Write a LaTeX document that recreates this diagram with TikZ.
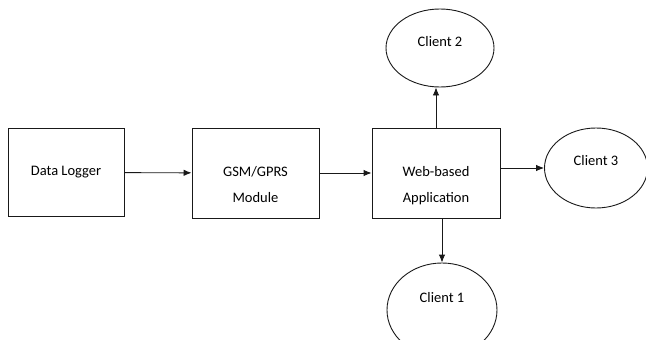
\documentclass[tikz,border=0pt]{standalone}
\usepackage{fontspec}
\setmainfont{Carlito}
\usepackage{tikz}
\usetikzlibrary{arrows.meta}
\usetikzlibrary{shapes.geometric, positioning}

\tikzset{
  block/.style={rectangle, draw, align=center, minimum width=116pt, minimum height=88pt},
  twoline/.style={text height=58pt, text depth=0pt},
  client/.style={ellipse, draw, minimum width=108pt, minimum height=78pt},
  link/.style={-{Latex[length=8pt,width=6.5pt]}}
}

\begin{document}
\begin{tikzpicture}[x=1pt, y=-1pt, line width=0.9pt, draw=black!90,
    font={\fontsize{14.5}{26}\selectfont}]
    \useasboundingbox (0,0) rectangle (646,340);
    \clip (0,0) rectangle (646,340);

    \node[block] (logger) at (66,172.5) {Data Logger};
    \node[block, twoline, minimum width=127pt, minimum height=90pt] (gsm) at (255.5,173)
      {GSM/GPRS\\ Module};
    \node[block, twoline, minimum width=128pt, minimum height=90pt] (web) at (436,173)
      {Web-based\\ Application};

    \node[client, text depth=14pt] (client2) at (440,48) {Client 2};
    \node[client, minimum width=103pt, minimum height=80pt, text depth=16pt]
      (client3) at (596,168) {Client 3};
    \node[client, minimum width=110pt, minimum height=94pt, text depth=26pt]
      (client1) at (442,310) {Client 1};

    \draw[link] (logger) -- (gsm);
    \draw[link] (gsm) -- (web);
    \draw[link] (web.north) -- (web.north |- client2.south);
    \draw[link] (web.east |- client3.west) -- (client3.west);
    \draw[link] (web.south -| client1.north) -- (client1.north);
  \end{tikzpicture}
\end{document}
